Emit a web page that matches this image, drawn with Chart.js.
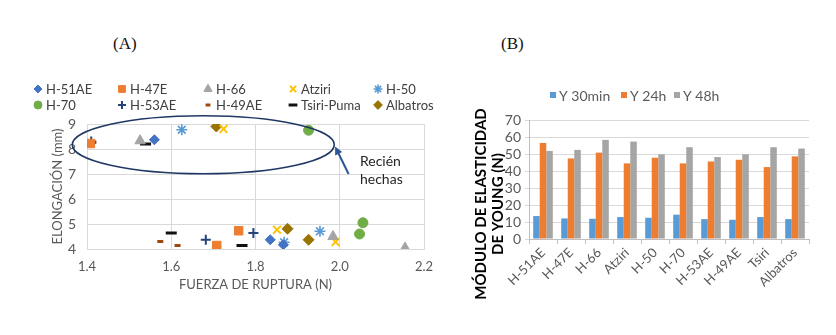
<!DOCTYPE html>
<html lang="es">
<head>
<meta charset="utf-8">
<title>Fuerza de ruptura y módulo de elasticidad</title>
<script src="https://cdn.jsdelivr.net/npm/chart.js@4.4.1/dist/chart.umd.min.js"></script>
<style>
  html, body { margin: 0; padding: 0; background: #fff; }
  body { width: 836px; height: 335px; position: relative; overflow: hidden; font-family: Lato, sans-serif; }
  .tag { position: absolute; top: 34px; font-family: "Liberation Serif", serif; font-size: 17px; color: #111; }
  #tagA { left: 113px; }
  #tagB { left: 501px; }
  #graficoA { position: absolute; left: 0; top: 78px; }
  #graficoB { position: absolute; left: 462px; top: 78px; }
</style>
</head>
<body>
<div class="tag" id="tagA">(A)</div>
<div class="tag" id="tagB">(B)</div>
<canvas id="graficoA" width="460" height="222"></canvas>
<canvas id="graficoB" width="374" height="257"></canvas>
<script>
// (A) fuerza de ruptura (N) vs elongación (mm), 3 mediciones por variedad
const variedades = ["H-51AE", "H-47E", "H-66", "Atziri", "H-50", "H-70", "H-53AE", "H-49AE", "Tsiri-Puma", "Albatros"];

const fuerzaH51AE = [1.56, 1.835, 1.866];
const elongH51AE = [8.37, 4.37, 4.17];
const fuerzaH47E = [1.408, 1.708, 1.76];
const elongH47E = [8.22, 4.14, 4.73];
const fuerzaH66 = [1.526, 1.984, 2.155];
const elongH66 = [8.33, 4.5, 4.04];
const fuerzaAtziri = [1.724, 1.851, 1.99];
const elongAtziri = [8.8, 4.77, 4.28];
const fuerzaH50 = [1.625, 1.953, 1.868];
const elongH50 = [8.77, 4.71, 4.27];
const fuerzaH70 = [1.926, 2.055, 2.047];
const elongH70 = [8.75, 5.05, 4.6];
const fuerzaH53AE = [1.41, 1.682, 1.795];
const elongH53AE = [8.3, 4.37, 4.64];
const fuerzaH49AE = [1.415, 1.574, 1.615];
const elongH49AE = [8.26, 4.3, 4.14];
const fuerzaTsiri = [1.539, 1.6, 1.768];
const elongTsiri = [8.2, 4.64, 4.14];
const fuerzaAlbatros = [1.707, 1.876, 1.926];
const elongAlbatros = [8.9, 4.81, 4.37];

const xTicksA = [1.4, 1.6, 1.8, 2.0, 2.2];
const yTicksA = [4, 5, 6, 7, 8, 9];

// (B) módulo de elasticidad de Young
const categoriasB = ["H-51AE", "H-47E", "H-66", "Atziri", "H-50", "H-70", "H-53AE", "H-49AE", "Tsiri", "Albatros"];
const y30min = [13.5, 12.1, 11.9, 12.9, 12.5, 14.3, 11.7, 11.3, 12.9, 11.7];
const y24h = [56.5, 47.4, 50.8, 44.5, 47.8, 44.5, 45.6, 46.6, 42.3, 48.6];
const y48h = [51.8, 52.4, 58.3, 57.3, 49.8, 54.0, 48.2, 49.8, 54.0, 53.2];
const yTicksB = [0, 10, 20, 30, 40, 50, 60, 70];

const puntosA = [
  [fuerzaH51AE, elongH51AE], [fuerzaH47E, elongH47E], [fuerzaH66, elongH66],
  [fuerzaAtziri, elongAtziri], [fuerzaH50, elongH50], [fuerzaH70, elongH70],
  [fuerzaH53AE, elongH53AE], [fuerzaH49AE, elongH49AE], [fuerzaTsiri, elongTsiri],
  [fuerzaAlbatros, elongAlbatros]
];

const estilosA = [
  { color: "#4472C4", shape: "rectRot", r: 5, bw: 1 },
  { color: "#ED7D31", shape: "rect", r: 6, bw: 1 },
  { color: "#A5A5A5", shape: "triangle", r: 6, bw: 1 },
  { color: "#FFC000", shape: "crossRot", r: 5.5, bw: 2 },
  { color: "#5B9BD5", shape: "star", r: 5.5, bw: 1.6 },
  { color: "#70AD47", shape: "circle", r: 5, bw: 1 },
  { color: "#264478", shape: "cross", r: 5, bw: 2 },
  { color: "#9E480E", shape: "line", r: 3, bw: 3 },
  { color: "#111111", shape: "line", r: 5.5, bw: 3 },
  { color: "#997300", shape: "rectRot", r: 5.5, bw: 1 }
];

const gris = "#595959";
const rejilla = "#d9d9d9";

function tickValues(list) {
  return scale => { scale.ticks = list.map(v => ({ value: v })); };
}

// leyenda en columnas fijas
const gridLegend = {
  id: "gridLegend",
  afterDraw(chart, args, opts) {
    const ctx = chart.ctx;
    ctx.save();
    ctx.font = opts.font;
    ctx.textBaseline = "middle";
    ctx.textAlign = "left";
    chart.data.datasets.forEach((ds, i) => {
      const x = opts.cols[i % opts.cols.length];
      const y = opts.rows[Math.floor(i / opts.cols.length)];
      ctx.fillStyle = ds.backgroundColor;
      ctx.strokeStyle = ds.borderColor || ds.backgroundColor;
      ctx.lineWidth = ds.borderWidth || 1;
      if (ds.pointStyle && Chart.helpers && Chart.helpers.drawPoint) {
        Chart.helpers.drawPoint(ctx, {
          pointStyle: ds.pointStyle,
          radius: ds.pointRadius * 0.8,
          rotation: 0,
          borderWidth: ds.borderWidth
        }, x, y);
      } else {
        ctx.fillRect(x - opts.box / 2, y - opts.box / 2, opts.box, opts.box);
      }
      ctx.fillStyle = opts.color;
      ctx.fillText(ds.label, x + opts.gap, y + 1);
    });
    ctx.restore();
  }
};

// título vertical en dos líneas (panel B)
const tituloVertical = {
  id: "tituloVertical",
  afterDraw(chart, args, o) {
    const ctx = chart.ctx;
    ctx.save();
    ctx.fillStyle = o.color;
    ctx.font = o.font;
    ctx.textAlign = "center";
    ctx.textBaseline = "middle";
    o.lines.forEach((t, i) => {
      ctx.save();
      ctx.translate(o.x[i], o.y);
      ctx.rotate(-Math.PI / 2);
      ctx.fillText(t, 0, 0);
      ctx.restore();
    });
    ctx.restore();
  }
};

// elipse con flecha y nota
const nota = {
  id: "nota",
  afterDraw(chart, args, o) {
    const { x, y } = chart.scales;
    const ctx = chart.ctx;
    const cx = x.getPixelForValue(o.cx);
    const cy = y.getPixelForValue(o.cy);
    const rx = Math.abs(x.getPixelForValue(o.cx + o.rx) - cx);
    const ry = Math.abs(y.getPixelForValue(o.cy + o.ry) - cy);
    ctx.save();
    ctx.strokeStyle = "#203864";
    ctx.lineWidth = 1.6;
    ctx.beginPath();
    ctx.ellipse(cx, cy, rx, ry, 0, 0, Math.PI * 2);
    ctx.stroke();

    const x0 = x.getPixelForValue(o.from[0]), y0 = y.getPixelForValue(o.from[1]);
    const x1 = x.getPixelForValue(o.to[0]), y1 = y.getPixelForValue(o.to[1]);
    const ang = Math.atan2(y1 - y0, x1 - x0);
    ctx.strokeStyle = "#2F5597";
    ctx.fillStyle = "#2F5597";
    ctx.lineWidth = 2;
    ctx.beginPath();
    ctx.moveTo(x0, y0);
    ctx.lineTo(x1 - Math.cos(ang) * 5, y1 - Math.sin(ang) * 5);
    ctx.stroke();
    ctx.beginPath();
    ctx.moveTo(x1, y1);
    ctx.lineTo(x1 - Math.cos(ang - 0.45) * 9, y1 - Math.sin(ang - 0.45) * 9);
    ctx.lineTo(x1 - Math.cos(ang + 0.45) * 9, y1 - Math.sin(ang + 0.45) * 9);
    ctx.closePath();
    ctx.fill();

    ctx.fillStyle = "#262626";
    ctx.font = "14px Lato, sans-serif";
    ctx.textBaseline = "middle";
    ctx.textAlign = "left";
    o.texto.forEach((t, i) => {
      ctx.fillText(t, x.getPixelForValue(o.textoX), y.getPixelForValue(o.textoY[i]));
    });
    ctx.restore();
  }
};

new Chart(document.getElementById("graficoA"), {
  type: "scatter",
  data: {
    datasets: puntosA.map(([xs, ys], i) => ({
      label: variedades[i],
      data: xs.map((v, j) => ({ x: v, y: ys[j] })),
      pointStyle: estilosA[i].shape,
      pointRadius: estilosA[i].r,
      pointHoverRadius: estilosA[i].r,
      borderWidth: estilosA[i].bw,
      backgroundColor: estilosA[i].color,
      borderColor: estilosA[i].color
    }))
  },
  options: {
    responsive: false,
    animation: false,
    devicePixelRatio: 1,
    layout: { padding: { left: 50, right: 36, top: 46, bottom: 0 } },
    plugins: {
      legend: { display: false },
      tooltip: { enabled: false },
      gridLegend: {
        cols: [38, 122, 208, 293, 378],
        rows: [11, 27],
        gap: 8,
        box: 7,
        font: "13px Lato, sans-serif",
        color: "#404040"
      },
      nota: {
        cx: 1.676, cy: 8.17, rx: 0.311, ry: 1.16,
        from: [2.021, 7.0], to: [1.989, 8.1],
        texto: ["Recién", "hechas"], textoX: 2.048, textoY: [7.49, 6.77]
      }
    },
    scales: {
      x: {
        type: "linear",
        min: xTicksA[0],
        max: xTicksA[xTicksA.length - 1],
        afterBuildTicks: tickValues(xTicksA),
        afterFit: s => { s.height = 51; },
        grid: { color: rejilla, drawTicks: false },
        border: { color: rejilla },
        ticks: { color: gris, font: { size: 13, family: "Lato" }, padding: 10, autoSkip: false, callback: v => v.toFixed(1) },
        title: { display: true, text: "FUERZA DE RUPTURA (N)", color: gris, font: { size: 13, family: "Lato" }, padding: { top: 0, bottom: 7 } }
      },
      y: {
        min: yTicksA[0],
        max: yTicksA[yTicksA.length - 1],
        afterBuildTicks: tickValues(yTicksA),
        afterFit: s => { s.width = 37; },
        grid: { color: rejilla, drawTicks: false },
        border: { color: rejilla },
        ticks: { color: gris, font: { size: 14, family: "Lato" }, padding: 11, autoSkip: false },
        title: { display: true, text: "ELONGACIÓN (mm)", color: gris, font: { size: 13, family: "Lato" }, padding: 0 }
      }
    }
  },
  plugins: [gridLegend, nota]
});

new Chart(document.getElementById("graficoB"), {
  type: "bar",
  data: {
    labels: categoriasB,
    datasets: [
      { label: "Y 30min", data: y30min, backgroundColor: "#5B9BD5" },
      { label: "Y 24h", data: y24h, backgroundColor: "#ED7D31" },
      { label: "Y 48h", data: y48h, backgroundColor: "#A5A5A5" }
    ]
  },
  options: {
    responsive: false,
    animation: false,
    devicePixelRatio: 1,
    datasets: { bar: { categoryPercentage: 0.7, barPercentage: 1.0 } },
    layout: { padding: { left: 4, right: 27, top: 42, bottom: 0 } },
    plugins: {
      legend: { display: false },
      tooltip: { enabled: false },
      gridLegend: {
        cols: [91, 162, 215],
        rows: [17],
        gap: 6,
        box: 6,
        font: "14px Lato, sans-serif",
        color: gris
      },
      tituloVertical: {
        lines: ["MÓDULO DE ELASTICIDAD", "DE YOUNG (N)"],
        x: [19, 36],
        y: 126,
        font: "bold 15px Lato, sans-serif",
        color: "#000"
      }
    },
    scales: {
      x: {
        afterFit: s => { s.height = 96; },
        grid: { display: true, drawOnChartArea: false, offset: true, tickLength: 5, color: "#bfbfbf" },
        border: { color: "#bfbfbf" },
        ticks: { color: gris, font: { size: 13, family: "Lato" }, minRotation: 45, maxRotation: 45, padding: 1, autoSkip: false }
      },
      y: {
        min: 0,
        max: 70,
        afterBuildTicks: tickValues(yTicksB),
        afterFit: s => { s.width = 63; },
        grid: { color: rejilla, tickLength: 4 },
        border: { color: "#bfbfbf" },
        ticks: { color: gris, font: { size: 14, family: "Lato" }, padding: 4, autoSkip: false }
      }
    }
  },
  plugins: [gridLegend, tituloVertical]
});
</script>
</body>
</html>
